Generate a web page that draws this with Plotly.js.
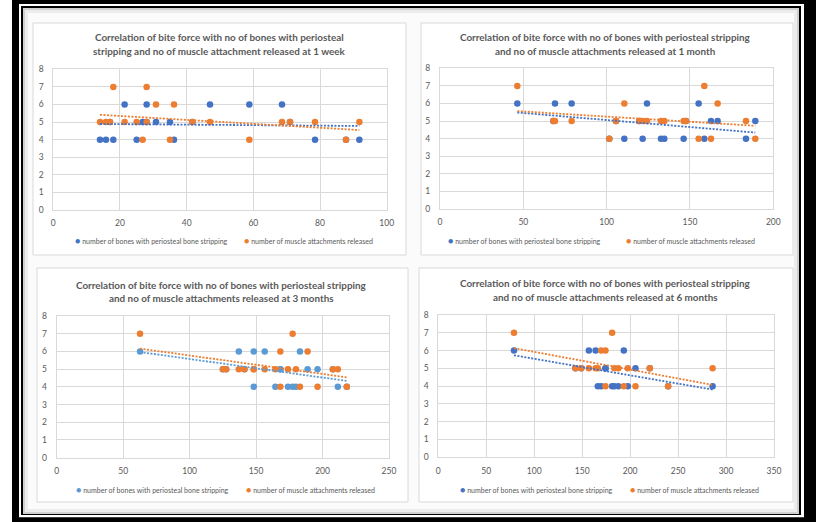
<!DOCTYPE html>
<html>
<head>
<meta charset="utf-8">
<script src="https://cdn.plot.ly/plotly-3.0.1.min.js"></script>
<style>html,body{margin:0;padding:0;background:#fff;}#chart{width:816px;height:522px;}</style>
</head>
<body>
<div id="chart"></div>
<script>
// ---------- DATA ----------
// Panel 1: at 1 week (x axis 0-100)
const biteForce1W = [14, 15.8, 17, 18, 21.4, 25, 26.8, 28, 28, 30.8, 35, 36.2, 41.7, 47, 58.8, 68.6, 71, 78.5, 87.8, 91.8];
const bones1W     = [4, 4, 5, 4, 6, 4, 5, 6, 5, 5, 5, 4, 5, 6, 6, 6, 5, 4, 4, 4];
const muscles1W   = [5, 5, 5, 7, 5, 5, 4, 7, 5, 6, 4, 6, 5, 5, 4, 5, 5, 5, 4, 5];
// Panel 2: at 1 month (x axis 0-200)
const biteForce1M = [46.4, 68, 69, 79, 101.6, 105.6, 110.6, 119.6, 121.6, 124.2, 132.6, 134.6, 146.2, 147.6, 155.2, 158.6, 162.6, 166.6, 183.6, 189.2];
const bones1M     = [6, 5, 6, 6, 4, 5, 4, 5, 4, 6, 4, 4, 4, 5, 6, 4, 5, 5, 4, 5];
const muscles1M   = [7, 5, 5, 5, 4, 5, 6, 5, 5, 5, 5, 5, 5, 5, 4, 7, 4, 6, 5, 4];
// Panel 3: at 3 months (x axis 0-250)
const biteForce3M = [62.7, 125, 127.5, 137, 141.25, 148.25, 148.25, 156.5, 164.5, 168.25, 168.25, 174, 177.5, 180, 183, 188.75, 196.25, 207.75, 211.5, 218.25];
const bones3M     = [6, 5, 5, 6, 5, 6, 4, 6, 4, 5, 5, 4, 4, 4, 6, 5, 5, 5, 4, 4];
const muscles3M   = [7, 5, 5, 5, 5, 5, 5, 5, 5, 6, 4, 5, 7, 5, 4, 6, 4, 5, 5, 4];
// Panel 4: at 6 months (x axis 0-350)
const biteForce6M = [78.9, 143, 149, 157, 164, 166.3, 169.8, 174.3, 174.3, 181.25, 183.6, 187.7, 193.4, 197.6, 205.6, 220.5, 239.6, 286];
const bones6M     = [6, 5, 5, 6, 6, 4, 4, 5, 5, 4, 4, 4, 6, 4, 5, 5, 4, 4];
const muscles6M   = [7, 5, 5, 5, 5, 5, 6, 6, 4, 7, 5, 5, 4, 5, 4, 5, 4, 5];

const titles = [
  "Correlation of bite force with no of bones with periosteal<br>stripping and no of muscle attachment released at 1 week",
  "Correlation of bite force with no of bones with periosteal stripping<br>and no of muscle attachments released at 1 month",
  "Correlation of bite force with no of bones with periosteal stripping<br>and no of muscle attachments released at 3 months",
  "Correlation of bite force with no of bones with periosteal stripping<br>and no of muscle attachments released at 6 months"
];
const seriesNames = ["number of bones with periosteal bone stripping", "number of muscle attachments released"];
const xMax = [100, 200, 250, 350];
const xStep = [20, 50, 50, 50];

// ---------- helpers ----------
const W = 816, H = 522;
const px = x => x / W;
const py = y => 1 - y / H;

function linFit(x, y) {
  const n = x.length;
  let sx = 0, sy = 0, sxx = 0, sxy = 0;
  for (let i = 0; i < n; i++) { sx += x[i]; sy += y[i]; sxx += x[i]*x[i]; sxy += x[i]*y[i]; }
  const b = (n*sxy - sx*sy) / (n*sxx - sx*sx);
  const a = (sy - b*sx) / n;
  const x0 = Math.min(...x), x1 = Math.max(...x);
  return {x: [x0, x1], y: [a + b*x0, a + b*x1]};
}

const BLUE = '#4472C4', ORANGE = '#ED7D31', LBLUE = '#5B9BD5';
const FONT = 'Lato, "Liberation Sans", sans-serif';
const panels = [
  {x: biteForce1W, b: bones1W, m: muscles1W, blue: BLUE},
  {x: biteForce1M, b: bones1M, m: muscles1M, blue: BLUE},
  {x: biteForce3M, b: bones3M, m: muscles3M, blue: LBLUE},
  {x: biteForce6M, b: bones6M, m: muscles6M, blue: BLUE}
];

// pixel geometry of each panel
const geo = [
  {box:[33,23,406,255],  plot:[53.3,69.3,386.7,210], tx:219,   ty:[36.7,50.7],  leg:[[72.5,240.7],[241.8,240.7]]},
  {box:[421,23,793,255], plot:[440,68.3,773.3,209],  tx:605.7, ty:[37.3,50.7],  leg:[[445.8,240.7],[623.5,240.7]]},
  {box:[37,268,408,502], plot:[56.7,316,389,457.7],  tx:221.7, ty:[285,298.3],  leg:[[74.2,489],[243.5,489]]},
  {box:[419,268,793,502],plot:[438.3,315,774,457.3], tx:605,   ty:[283.3,296.7],leg:[[457.5,489],[627.5,489]]}
];

const traces = [];
const layout = {
  width: W, height: H,
  margin: {l:0, r:0, t:0, b:0},
  paper_bgcolor: '#ffffff',
  plot_bgcolor: 'rgba(0,0,0,0)',
  showlegend: false,
  font: {family: FONT, color: '#595959'},
  shapes: [], annotations: []
};

// frame
const rect = (x0,y0,x1,y1,fill,line,lw) => ({type:'rect', xref:'paper', yref:'paper', layer:'below',
  x0:px(x0), x1:px(x1), y0:py(y1), y1:py(y0), fillcolor:fill, line:{color:line||fill, width:lw||0}});
layout.shapes.push(rect(12,0,816,522,'#000000'));
layout.shapes.push(rect(19,4,804,517.3,'#ffffff'));
layout.shapes.push(rect(21,6,801,515,'#000000'));
layout.shapes.push(rect(23,8,799,514,'#d0d0d0'));
layout.shapes.push(rect(25,10,797,512,'#ececec'));
layout.shapes.push(rect(28,13,794,509,'#fbfbfb'));

panels.forEach((p, i) => {
  const k = i === 0 ? '' : String(i+1);
  const g = geo[i];
  layout.shapes.push(rect(g.box[0], g.box[1], g.box[2], g.box[3], '#ffffff', '#D9D9D9', 1));
  const axCommon = {
    showgrid: true, gridcolor: '#D9D9D9', gridwidth: 1, zeroline: false,
    showline: true, linecolor: '#D9D9D9', linewidth: 1, mirror: true,
    ticks: '', tickfont: {family: FONT, size: 8.5, color: '#595959'},
    fixedrange: true
  };
  layout['xaxis'+k] = Object.assign({}, axCommon, {
    domain: [px(g.plot[0]), px(g.plot[2])], anchor: 'y'+k,
    range: [0, xMax[i]], dtick: xStep[i], tick0: 0, ticklabelstandoff: 5
  });
  layout['yaxis'+k] = Object.assign({}, axCommon, {
    domain: [py(g.plot[3]), py(g.plot[1])], anchor: 'x'+k,
    range: [0, 8], dtick: 1, tick0: 0, ticklabelstandoff: 7
  });
  const xa = 'x'+k, ya = 'y'+k;
  traces.push({type:'scatter', mode:'markers', x:p.x, y:p.b, xaxis:xa, yaxis:ya, name:seriesNames[0],
    marker:{color:p.blue, size:6.5}, hoverinfo:'x+y'});
  traces.push({type:'scatter', mode:'markers', x:p.x, y:p.m, xaxis:xa, yaxis:ya, name:seriesNames[1],
    marker:{color:ORANGE, size:6.5}, hoverinfo:'x+y'});
  const fb = linFit(p.x, p.b), fm = linFit(p.x, p.m);
  traces.push({type:'scatter', mode:'lines', x:fb.x, y:fb.y, xaxis:xa, yaxis:ya, name:'Linear ('+seriesNames[0]+')',
    line:{color:p.blue, width:1.8, dash:'2px,1.5px'}, hoverinfo:'skip'});
  traces.push({type:'scatter', mode:'lines', x:fm.x, y:fm.y, xaxis:xa, yaxis:ya, name:'Linear ('+seriesNames[1]+')',
    line:{color:ORANGE, width:1.8, dash:'2px,1.5px'}, hoverinfo:'skip'});

  titles[i].split('<br>').forEach((line, j) => {
    layout.annotations.push({xref:'paper', yref:'paper', x:px(g.tx), y:py(g.ty[j]), xanchor:'center', yanchor:'middle',
      showarrow:false, text:line,
      font:{family:FONT, size:9.9, color:'#595959', weight:700}});
  });
  [[p.blue, seriesNames[0]], [ORANGE, seriesNames[1]]].forEach((s, j) => {
    layout.annotations.push({xref:'paper', yref:'paper', x:px(g.leg[j][0]), y:py(g.leg[j][1]), xanchor:'left', yanchor:'middle',
      showarrow:false, text:'<span style="color:'+s[0]+';font-size:9px">●</span> '+s[1],
      font:{family:FONT, size:7, color:'#595959'}});
  });
});

Plotly.newPlot('chart', traces, layout, {staticPlot:true, displayModeBar:false});
</script>
</body>
</html>
